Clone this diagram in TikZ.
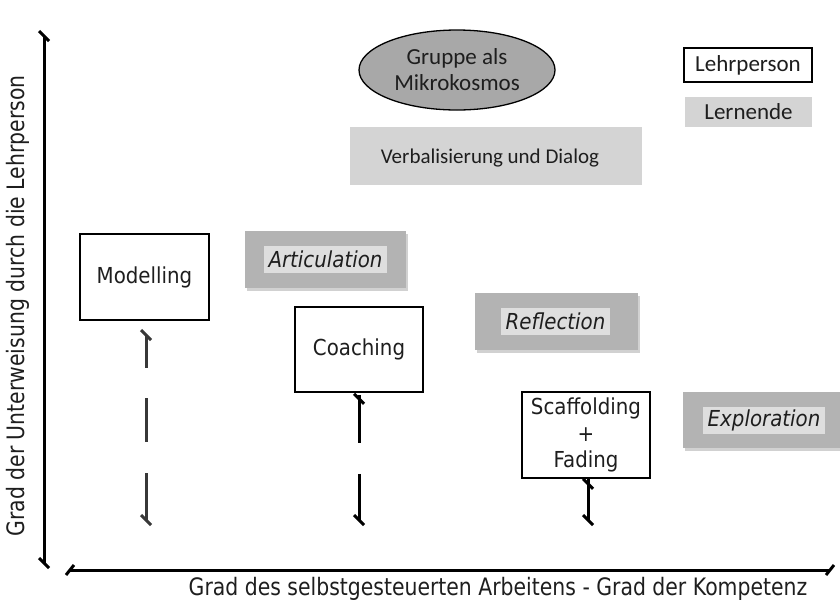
\documentclass[tikz,border=0pt]{standalone}
\usepackage{fontspec}
\setmainfont{Carlito}
\newfontfamily\boxfont[FakeStretch=0.9]{DejaVu Sans}
\newfontfamily\axisfont[FakeStretch=0.85]{DejaVu Sans}
\usetikzlibrary{shapes.geometric,shadows}

\definecolor{phaseGray}{HTML}{B3B3B3}
\definecolor{phaseLight}{HTML}{DEDEDE}
\definecolor{groupGray}{HTML}{A8A8A8}
\definecolor{learnGray}{HTML}{D4D4D4}
\definecolor{inkDark}{HTML}{1E1E1E}

\tikzset{
  teacherbox/.style={draw=black, line width=1.5, fill=white, inner sep=0pt,
    font=\boxfont\fontsize{22}{26.5}\selectfont, text=inkDark, align=center},
  phasebox/.style={fill=phaseGray, inner sep=0pt,
    drop shadow={shadow xshift=2pt, shadow yshift=-3pt, opacity=0.18, fill=black}},
  phaselabel/.style={fill=phaseLight, inner xsep=5pt, inner ysep=0pt, minimum height=27,
    font=\boxfont\itshape\fontsize{22}{24}\selectfont, text=inkDark},
  calibrilabel/.style={inner sep=0pt, font=\fontsize{23}{26}\selectfont, text=inkDark, align=center},
  axisline/.style={line width=3, black},
  trackline/.style={line width=3},
  endtick/.style={line width=3, line cap=butt},
}

% slanted end mark: upper-left to lower-right
\newcommand\tickdown[2][black]{\draw[endtick,#1] ([shift={(-5,-5)}]#2) -- ([shift={(5,5)}]#2);}
% slanted end mark: lower-left to upper-right
\newcommand\tickup[2][black]{\draw[endtick,#1] ([shift={(-4,5)}]#2) -- ([shift={(4,-5)}]#2);}

\begin{document}
\begin{tikzpicture}[x=1pt, y=-1pt]
\useasboundingbox (0,0) rectangle (840,606);

% ---- top: group, dialogue, legend
\node[ellipse, draw=black, line width=1.3, fill=groupGray, minimum width=196, minimum height=80,
      calibrilabel] (group) at (457,70) {Gruppe als\\Mikrokosmos};
\node[fill=learnGray, minimum width=292, minimum height=58, inner sep=0pt] (dialog) at (496,156) {};
\node[inner sep=0pt, font=\fontsize{21}{24}\selectfont, text=inkDark] (dialogText)
      at ([xshift=-6pt,yshift=-2pt]dialog.center) {Verbalisierung und Dialog};
\node[draw=black, line width=1.5, fill=white, minimum width=128, minimum height=34,
      calibrilabel] (legT) at (748,65) {Lehrperson};
\node[fill=learnGray, minimum width=127, minimum height=30, calibrilabel] (legL) at (748.5,112) {Lernende};

% ---- teacher-led phases
\node[teacherbox, minimum width=129, minimum height=86] (model) at (144.5,277) {Modelling};
\node[teacherbox, minimum width=128, minimum height=85] (coach) at (359,349.5) {Coaching};
\node[teacherbox, minimum width=128, minimum height=86] (scaff) at (586,435) {Scaffolding\\+\\Fading};

% ---- learner-led phases
\node[phasebox, minimum width=161, minimum height=57] (artBox) at (325.5,259.5) {};
\node[phaselabel] (art) at (325.5,259) {Articulation};
\node[phasebox, minimum width=163, minimum height=57] (refBox) at (556.5,321.5) {};
\node[phaselabel] (ref) at (555.5,321.5) {Reflection};
\node[phasebox, minimum width=159, minimum height=56] (expBox) at (762.5,420) {};
\node[phaselabel] (exp) at (764,420) {Exploration};

% ---- fading support tracks
\coordinate (mTop) at (146,335);
\coordinate (mBot) at (146,520);
\draw[trackline, draw=black!78, dash pattern=on 33 off 30 on 44 off 31 on 60] (mTop) -- (mBot);
\tickdown[black!78]{mTop}
\tickdown[black!78]{mBot}

\coordinate (cTop) at ([yshift=-2pt]coach.south);
\coordinate (cTick) at ([yshift=-6pt]coach.south);
\coordinate (cBot) at (359,520);
\draw[trackline, dash pattern=on 48 off 31 on 60] (cTop) -- (cBot);
\tickdown{cTick}
\tickdown{cBot}

\coordinate (sTop) at ([xshift=2pt]scaff.south);
\coordinate (sTick) at ([xshift=2pt,yshift=-5pt]scaff.south);
\coordinate (sBot) at (588,520);
\draw[trackline] (sTop) -- (sBot);
\tickdown{sTick}
\tickdown{sBot}

% ---- axes
\coordinate (yTop) at (44,36);
\coordinate (yBot) at (44,563);
\draw[axisline] (yTop) -- (yBot);
\tickdown{yTop}
\tickdown{yBot}

\coordinate (xLeft) at (70,570);
\coordinate (xRight) at (830,570);
\draw[axisline] (xLeft) -- (xRight);
\tickup{xLeft}
\tickup{xRight}

\node[inner sep=0pt, font=\axisfont\fontsize{24}{28}\selectfont, text=inkDark] (xlab) at (498,589)
  {Grad des selbstgesteuerten Arbeitens - Grad der Kompetenz};
\node[inner sep=0pt, rotate=90, font=\axisfont\fontsize{24}{28}\selectfont, text=inkDark] (ylab) at (18,306)
  {Grad der Unterweisung durch die Lehrperson};
\end{tikzpicture}
\end{document}
